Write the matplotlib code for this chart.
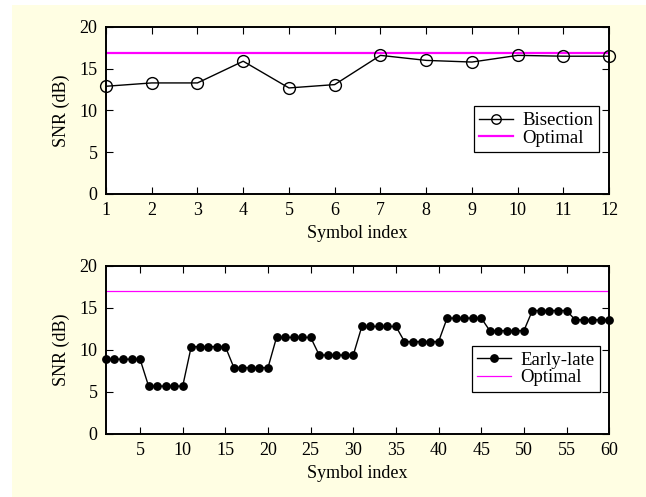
import numpy as np
import matplotlib.pyplot as plt
from matplotlib.patches import Rectangle

# data
sym_top = np.arange(1, 13)
snr_bisection = [12.9, 13.3, 13.3, 15.9, 12.7, 13.1, 16.6, 16.0, 15.8, 16.6, 16.5, 16.5]
opt_top = 16.9

sym_bot = np.arange(1, 61)
group_levels = [8.9, 5.7, 10.4, 7.9, 11.5, 9.4, 12.8, 11.0, 13.8, 12.3, 14.7, 13.6]
snr_early_late = np.repeat(group_levels, 5)
opt_bot = 17.0

plt.rcParams['font.family'] = ['Liberation Serif', 'DejaVu Serif']
plt.rcParams['font.size'] = 13

fig = plt.figure(figsize=(6.46, 4.97), dpi=100, facecolor='white')
# cream panel, thin white margin on top and left
fig.patches.append(Rectangle((12 / 646, 0), 1, 1 - 5 / 497, transform=fig.transFigure,
                             facecolor='#FFFEE3', edgecolor='none', zorder=-10))

ax1 = fig.add_axes([0.164, 0.6097, 0.779, 0.336])
ax2 = fig.add_axes([0.164, 0.1268, 0.779, 0.338])

# top: bisection
ax1.plot(sym_top, snr_bisection, color='black', linewidth=1.0, marker='o',
         markersize=8.5, markerfacecolor='none', markeredgecolor='black',
         markeredgewidth=1.0, label='Bisection', clip_on=False, zorder=3)
ax1.axhline(opt_top, color='#FF00FF', linewidth=1.6, label='Optimal')
ax1.set_xlim(1, 12)
ax1.set_ylim(0, 20)
ax1.set_xticks(sym_top)
ax1.set_yticks([0, 5, 10, 15, 20])

# bottom: early-late
ax2.plot(sym_bot, snr_early_late, color='black', linewidth=1.0, marker='o',
         markersize=5.3, markerfacecolor='black', markeredgecolor='black',
         label='Early-late', clip_on=False, zorder=3)
ax2.axhline(opt_bot, color='#FF00FF', linewidth=0.9, label='Optimal')
ax2.set_xlim(1, 60)
ax2.set_ylim(0, 20)
ax2.set_xticks(np.arange(5, 61, 5))
ax2.set_yticks([0, 5, 10, 15, 20])

for ax, anchor, mscale in [(ax1, (0.98, 0.25), 0.8), (ax2, (0.982, 0.25), 1.0)]:
    ax.set_facecolor('white')
    ax.set_xlabel('Symbol index', labelpad=4)
    ax.set_ylabel('SNR (dB)', labelpad=7)
    ax.tick_params(direction='in', top=True, right=True, length=5, width=0.8, pad=6)
    for s in ax.spines.values():
        s.set_linewidth(1.4)
    leg = ax.legend(loc='lower right', bbox_to_anchor=anchor, fancybox=False,
                    edgecolor='black', framealpha=1, handlelength=1.8,
                    handletextpad=0.5, borderpad=0.3, labelspacing=0.02,
                    borderaxespad=0, markerscale=mscale, fontsize=13.5)
    leg.get_frame().set_linewidth(0.9)

plt.savefig('out.png', dpi=100, facecolor=fig.get_facecolor())
